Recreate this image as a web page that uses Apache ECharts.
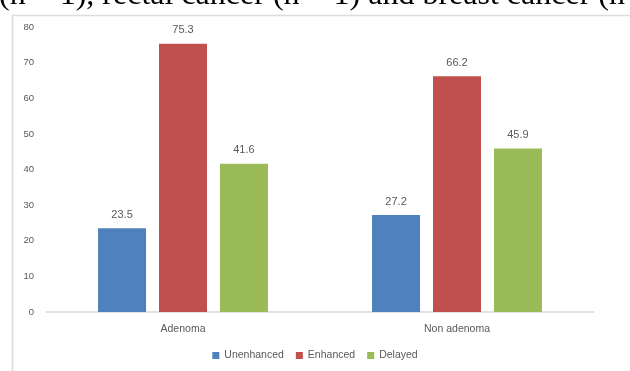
<!DOCTYPE html>
<html>
<head>
<meta charset="utf-8">
<script src="https://cdn.jsdelivr.net/npm/echarts@6/dist/echarts.min.js"></script>
<style>
  html, body { margin: 0; padding: 0; background: #fff; }
  #chart { width: 630px; height: 371px; }
</style>
</head>
<body>
<div id="chart"></div>
<script>
// Enhancement pattern by lesion type (%)
const categories = ['Adenoma', 'Non adenoma'];
const seriesNames = ['Unenhanced', 'Enhanced', 'Delayed'];
const unenhanced = [23.5, 27.2];
const enhanced = [75.3, 66.2];
const delayed = [41.6, 45.9];
const yTicks = [0, 10, 20, 30, 40, 50, 60, 70, 80];
const captionText = '(n = 1), rectal cancer (n = 1) and breast cancer (n = 1)';

const colors = ['#4f81bd', '#c0504d', '#9bbb59'];
const values = [unenhanced, enhanced, delayed];
const sans = 'Liberation Sans, Arial, sans-serif';

const chart = echarts.init(document.getElementById('chart'), null, { renderer: 'canvas' });

const labelStyle = {
  show: true,
  position: 'top',
  distance: 8,
  color: '#595959',
  fontSize: 11,
  fontFamily: sans,
  formatter: p => p.value.toFixed(1)
};

chart.setOption({
  animation: false,
  backgroundColor: '#fff',
  color: colors,
  graphic: [
    {
      type: 'text',
      left: -1,
      top: -20,
      style: {
        text: captionText,
        font: '32px "Liberation Serif", "Times New Roman", serif',
        fill: '#000'
      }
    },
    {
      type: 'rect',
      left: 10,
      top: 13,
      shape: { width: 640, height: 380 },
      style: { fill: 'none', stroke: '#dcdcdc', lineWidth: 1.5 },
      z: -1
    }
  ],
  grid: { left: 46, right: 36, top: 27, bottom: 59 },
  legend: {
    data: seriesNames,
    bottom: 5,
    left: 'center',
    itemWidth: 7,
    itemHeight: 7,
    itemGap: 12,
    icon: 'rect',
    textStyle: { color: '#595959', fontSize: 10.5, fontFamily: sans }
  },
  xAxis: {
    type: 'category',
    data: categories,
    axisLine: { lineStyle: { color: '#d9d9d9', width: 1.5 } },
    axisTick: { show: false },
    axisLabel: { color: '#595959', fontSize: 10.5, margin: 12, fontFamily: sans }
  },
  yAxis: {
    type: 'value',
    min: yTicks[0],
    max: yTicks[yTicks.length - 1],
    interval: yTicks[1] - yTicks[0],
    axisLine: { show: false },
    axisTick: { show: false },
    splitLine: { show: false },
    axisLabel: { color: '#595959', fontSize: 9.5, margin: 12, fontFamily: sans }
  },
  series: seriesNames.map((name, i) => ({
    name: name,
    type: 'bar',
    data: values[i],
    barWidth: 48,
    barGap: '27%',
    itemStyle: { color: colors[i] },
    label: labelStyle
  }))
});
</script>
</body>
</html>
